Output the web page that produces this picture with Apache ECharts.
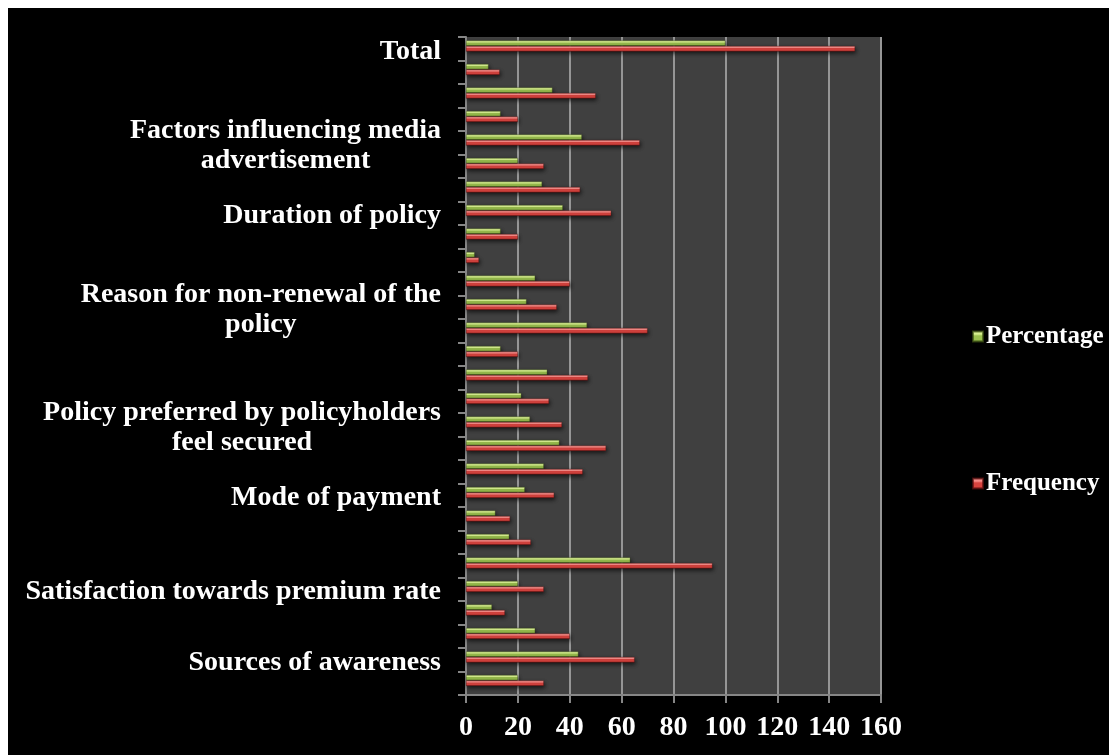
<!DOCTYPE html>
<html>
<head>
<meta charset="utf-8">
<title>Frequency and Percentage</title>
<script src="https://cdn.jsdelivr.net/npm/echarts@6/dist/echarts.min.js"></script>
<style>
  html, body { margin: 0; padding: 0; background: #ffffff; width: 1109px; height: 755px; overflow: hidden; }
  #chart { position: absolute; left: 8px; top: 8px; width: 1101px; height: 747px; background: #000000; }
</style>
</head>
<body>
<div id="chart"></div>
<script>
// Category rows, top to bottom; only one row of each group carries the group name
const categories = [
  'Total', '', '', '',
  'Factors influencing media\nadvertisement', '', '',
  'Duration of policy', '', '', '',
  'Reason for non-renewal of the\npolicy', '', '', '', '',
  'Policy preferred by policyholders\nfeel secured', '', '',
  'Mode of payment', '', '', '',
  'Satisfaction towards premium rate', '', '',
  'Sources of awareness', ''
];

const percentage = [
  100, 8.67, 33.33, 13.33, 44.67, 20, 29.33, 37.33, 13.33, 3.33,
  26.67, 23.33, 46.67, 13.33, 31.33, 21.33, 24.67, 36, 30, 22.67,
  11.33, 16.67, 63.33, 20, 10, 26.67, 43.33, 20
];

const frequency = [
  150, 13, 50, 20, 67, 30, 44, 56, 20, 5,
  40, 35, 70, 20, 47, 32, 37, 54, 45, 34,
  17, 25, 95, 30, 15, 40, 65, 30
];

const xTicks = { min: 0, max: 160, interval: 20 };

const FONT = "'Liberation Serif', 'Times New Roman', serif";

// Vertical shading that gives each bar a lit top edge and a dark underside
function shaded(light, main, dark) {
  return new echarts.graphic.LinearGradient(0, 0, 0, 1, [
    { offset: 0, color: light },
    { offset: 0.3, color: light },
    { offset: 0.45, color: main },
    { offset: 0.78, color: main },
    { offset: 1, color: dark }
  ]);
}

const barShadow = {
  shadowColor: 'rgba(0,0,0,0.7)',
  shadowBlur: 4,
  shadowOffsetX: 1,
  shadowOffsetY: 2
};

const chart = echarts.init(document.getElementById('chart'), null, { renderer: 'canvas' });

chart.setOption({
  backgroundColor: '#000000',
  animation: false,
  textStyle: { fontFamily: FONT },
  grid: {
    left: 458, top: 29, width: 415, height: 658,
    show: true, backgroundColor: '#404040', borderWidth: 0,
    containLabel: false
  },
  legend: {
    orient: 'vertical',
    left: 959, top: 311,
    itemGap: 122,
    itemWidth: 10, itemHeight: 10,
    icon: 'rect',
    data: ['Percentage', 'Frequency'],
    textStyle: { color: '#ffffff', fontSize: 25, fontWeight: 'bold', fontFamily: FONT, padding: [0, 0, 0, -2] }
  },
  xAxis: {
    type: 'value',
    min: xTicks.min, max: xTicks.max, interval: xTicks.interval,
    axisLine: { show: true, lineStyle: { color: '#868686', width: 2 } },
    axisTick: { show: true, length: 8, lineStyle: { color: '#868686', width: 2 } },
    splitLine: { show: true, lineStyle: { color: '#969696', width: 2 } },
    axisLabel: { color: '#ffffff', fontSize: 28, fontWeight: 'bold', fontFamily: FONT, margin: 19 }
  },
  yAxis: {
    type: 'category',
    inverse: true,
    data: categories,
    axisLine: { show: true, lineStyle: { color: '#868686', width: 2 } },
    axisTick: { show: true, length: 8, interval: 0, lineStyle: { color: '#868686', width: 2 } },
    splitLine: { show: false },
    axisLabel: {
      interval: 0,
      margin: 25,
      padding: [6, 0, 0, 0],
      color: '#ffffff',
      fontSize: 28,
      fontWeight: 'bold',
      fontFamily: FONT,
      lineHeight: 30,
      formatter: function (v) {
        if (!v) return '';
        return v.split('\n').map(function (s) { return '{c|' + s + '}'; }).join('\n');
      },
      rich: {
        c: { align: 'center', color: '#ffffff', fontSize: 28, fontWeight: 'bold', fontFamily: FONT, lineHeight: 30 }
      }
    }
  },
  series: [
    {
      name: 'Percentage',
      type: 'bar',
      data: percentage,
      barWidth: 5.5,
      barGap: '0%',
      itemStyle: Object.assign({
        color: shaded('#d8f090', '#9cc24f', '#5a7a22'),
        borderColor: 'rgba(60,80,20,0.7)',
        borderWidth: 0.5
      }, barShadow)
    },
    {
      name: 'Frequency',
      type: 'bar',
      data: frequency,
      barWidth: 5.5,
      barGap: '0%',
      itemStyle: Object.assign({
        color: shaded('#f68c88', '#d9443f', '#881a18'),
        borderColor: 'rgba(90,15,15,0.7)',
        borderWidth: 0.5
      }, barShadow)
    },
    {
      // empty slot below each pair, so the pair sits in the upper part of its row
      name: 'spacer',
      type: 'bar',
      data: [],
      barWidth: 5.5,
      barGap: '0%',
      silent: true
    }
  ]
});
</script>
</body>
</html>
